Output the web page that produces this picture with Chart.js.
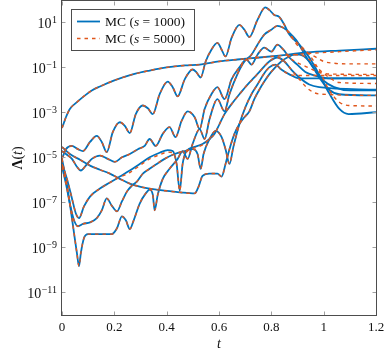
<!DOCTYPE html>
<html><head><meta charset="utf-8">
<script src="https://cdn.jsdelivr.net/npm/chart.js@4.4.1/dist/chart.umd.min.js"></script>
<style>html,body{margin:0;padding:0;background:#fff;}canvas{display:block;}</style>
</head><body>
<canvas id="c" width="390" height="355"></canvas>
<script>
// ---------- data ----------
const xTickValues = [0, 0.2, 0.4, 0.6, 0.8, 1, 1.2];
const xTickLabels = ['0', '0.2', '0.4', '0.6', '0.8', '1', '1.2'];
const yTickValues = [1e1, 1e-1, 1e-3, 1e-5, 1e-7, 1e-9, 1e-11];
const yTickExps = ['1', '\u22121', '\u22123', '\u22125', '\u22127', '\u22129', '\u221211'];
const seriesLabels = ['MC (s = 1000)', 'MC (s = 5000)'];

const tA = [0,0.008,0.015,0.03,0.057,0.088,0.114,0.145,0.2,0.27,0.335,0.4,0.47,0.526,0.6,0.67,0.754,0.83,0.933,1.06,1.2];
const A1000 = [2.0e-4,3.6e-4,6.0e-4,1.4e-3,2.8e-3,5.6e-3,9.3e-3,1.4e-2,2.6e-2,4.8e-2,7.1e-2,9.8e-2,0.12,0.13,0.18,0.22,0.27,0.33,0.45,0.55,0.66];
const A5000 = [2.0e-4,3.6e-4,6.0e-4,1.4e-3,2.8e-3,5.6e-3,9.3e-3,1.4e-2,2.6e-2,4.8e-2,7.1e-2,9.8e-2,0.12,0.13,0.18,0.22,0.27,0.32,0.40,0.49,0.60];

const tB = [0,0.015,0.038,0.061,0.08,0.107,0.133,0.152,0.171,0.194,0.221,0.24,0.259,0.282,0.309,0.328,0.347,0.373,0.404,0.423,0.442,0.469,0.499,0.514,0.53,0.549,0.571,0.594,0.61,0.625,0.648,0.678,0.697,0.716,0.747,0.777,0.792,0.811,0.83,0.85,0.869,0.907,0.945,0.985,1.02,1.06,1.095,1.2];
const B1000 = [8.5e-6,2.3e-5,3.2e-5,2.3e-5,1.9e-5,4.8e-5,8.9e-5,4.8e-5,1.7e-5,1.3e-4,3.6e-4,2.5e-4,1.2e-4,8.3e-4,2.0e-3,1.5e-3,8.3e-4,6.3e-3,2.3e-2,1.3e-2,5.1e-3,2.9e-2,7.9e-2,5.9e-2,3.5e-2,0.18,0.6,1.2,0.6,0.3,2.0,7.6,4.6,2.2,12.6,45,35,21,17,7.6,2.8,1.0,0.27,4.3e-2,7.3e-3,1.4e-3,8.3e-4,1.0e-3];
const B5000 = [8.5e-6,2.3e-5,3.2e-5,2.3e-5,1.9e-5,4.8e-5,8.9e-5,4.8e-5,1.7e-5,1.3e-4,3.6e-4,2.5e-4,1.2e-4,8.3e-4,2.0e-3,1.5e-3,8.3e-4,6.3e-3,2.3e-2,1.3e-2,5.1e-3,2.9e-2,7.9e-2,5.9e-2,3.5e-2,0.18,0.6,1.2,0.6,0.3,2.0,7.6,4.6,2.2,12.6,45,35,21,17,7.6,2.8,1.0,0.36,6.5e-2,1.0e-2,2.8e-3,2.0e-3,1.9e-3];

const tC = [0,0.015,0.03,0.046,0.057,0.065,0.072,0.084,0.099,0.145,0.19,0.21,0.229,0.244,0.259,0.274,0.297,0.32,0.335,0.347,0.354,0.366,0.385,0.411,0.442,0.461,0.48,0.499,0.526,0.545,0.564,0.594,0.621,0.64,0.67,0.697,0.724,0.747,0.773,0.8,0.823,0.846,0.869,0.895,0.93,0.965,1.0,1.04,1.1,1.2];
const C1000 = [8.5e-6,1.1e-6,8.9e-8,4.3e-9,5.6e-10,1.5e-10,5.6e-10,2.6e-9,3.9e-9,3.9e-9,3.9e-9,7.1e-9,2.4e-8,1.6e-8,6.5e-9,1.6e-8,8.9e-8,2.5e-7,3.7e-7,2.2e-7,4.4e-8,2.2e-7,1.1e-6,3.1e-6,8.5e-6,1.9e-5,8.5e-6,3.9e-5,1.8e-4,6.5e-5,5.0e-4,3.8e-3,1.1e-3,6.3e-3,4.8e-2,0.18,0.36,1.0,2.8,4.6,6.9,5.6,3.4,1.6,0.33,7.9e-2,2.5e-2,1.3e-2,9.3e-3,9.3e-3];
const C5000 = [8.5e-6,1.1e-6,8.9e-8,4.3e-9,5.6e-10,1.5e-10,5.6e-10,2.6e-9,3.9e-9,3.9e-9,3.9e-9,7.1e-9,2.4e-8,1.6e-8,6.5e-9,1.6e-8,8.9e-8,2.5e-7,3.7e-7,2.2e-7,4.4e-8,2.2e-7,1.1e-6,3.1e-6,8.5e-6,1.9e-5,8.5e-6,3.9e-5,1.8e-4,6.5e-5,5.0e-4,3.8e-3,1.1e-3,6.3e-3,4.8e-2,0.18,0.36,1.0,2.8,4.6,6.9,5.6,3.4,1.1,0.49,0.30,0.18,0.15,0.14,0.14];

const tD = [0,0.03,0.069,0.107,0.145,0.183,0.221,0.259,0.297,0.335,0.392,0.45,0.507,0.522,0.537,0.564,0.594,0.61,0.625,0.64,0.659,0.678,0.697,0.716,0.735,0.754,0.773,0.792,0.815,0.838,0.861,0.888,0.907,0.945,0.983,1.021,1.059,1.2];
const D1000 = [2.9e-5,1.4e-5,7.8e-6,4.3e-6,2.8e-6,1.9e-6,1.1e-6,6.8e-7,5.0e-7,4.1e-7,3.3e-7,2.8e-7,2.5e-7,5.0e-7,1.5e-6,1.9e-6,1.9e-6,1.4e-6,5.1e-6,2.3e-5,1.1e-4,3.0e-4,6.0e-4,1.1e-3,3.8e-3,1.0e-2,2.3e-2,4.8e-2,9.8e-2,0.18,0.27,0.36,0.36,0.18,3.5e-2,1.0e-2,6.3e-3,5.6e-3];
const D5000 = [2.9e-5,1.4e-5,7.8e-6,4.3e-6,2.8e-6,1.9e-6,1.1e-6,6.8e-7,5.0e-7,4.1e-7,3.3e-7,2.8e-7,2.5e-7,5.0e-7,1.5e-6,1.9e-6,1.9e-6,1.4e-6,5.1e-6,2.3e-5,1.1e-4,3.0e-4,6.0e-4,1.1e-3,3.8e-3,1.0e-2,2.3e-2,4.8e-2,9.8e-2,0.18,0.27,0.36,0.36,0.22,7.9e-2,3.5e-2,2.1e-2,1.9e-2];

const tE = [0,0.019,0.038,0.053,0.065,0.084,0.107,0.145,0.183,0.221,0.259,0.297,0.335,0.373,0.404,0.423,0.438,0.45,0.461,0.476,0.507,0.537,0.564,0.583,0.602,0.621,0.648,0.678,0.709,0.735,0.762,0.792,0.823,0.85,0.876,0.907,0.945,0.983,1.2];
const E1000 = [5.1e-6,1.1e-6,1.5e-7,3.2e-8,2.0e-8,6.6e-8,1.8e-7,4.1e-7,7.6e-7,1.4e-6,2.6e-6,5.1e-6,1.0e-5,1.6e-5,2.1e-5,1.9e-5,5.1e-6,3.3e-7,5.1e-6,1.9e-5,2.9e-5,3.9e-5,6.5e-5,1.1e-4,3.0e-4,8.3e-4,2.3e-3,6.3e-3,1.7e-2,3.5e-2,7.9e-2,0.18,0.27,0.18,7.9e-2,3.5e-2,1.7e-2,1.3e-2,1.0e-2];
const E5000 = [5.1e-6,1.1e-6,1.5e-7,3.2e-8,2.0e-8,6.6e-8,1.8e-7,4.1e-7,7.6e-7,1.3e-6,2.1e-6,4.3e-6,8.5e-6,1.3e-5,1.7e-5,1.6e-5,5.1e-6,3.3e-7,5.1e-6,1.7e-5,2.6e-5,3.6e-5,6.5e-5,1.1e-4,3.0e-4,8.3e-4,2.3e-3,6.3e-3,1.7e-2,3.5e-2,7.9e-2,0.18,0.27,0.18,7.9e-2,2.9e-2,1.0e-2,6.5e-3,5.6e-3];

const tF = [0,0.015,0.03,0.046,0.061,0.08,0.107,0.133,0.152,0.171,0.19,0.21,0.229,0.248,0.267,0.286,0.309,0.335,0.362,0.392,0.43,0.469,0.499,0.518,0.53,0.541,0.564,0.587,0.61,0.625,0.64,0.655,0.678,0.701,0.724,0.747,0.77,0.792,0.815,0.838,0.869,0.907,0.945,1.2];
const F1000 = [3.8e-6,6.8e-7,8.9e-8,1.6e-8,8.7e-9,1.1e-8,1.3e-8,2.0e-8,4.4e-8,1.5e-7,7.2e-8,4.0e-8,1.1e-7,3.0e-7,5.5e-7,8.3e-7,1.9e-6,3.1e-6,5.1e-6,8.5e-6,1.4e-5,1.9e-5,2.3e-5,1.4e-5,3.1e-6,1.4e-5,6.5e-5,1.5e-4,7.9e-5,2.3e-5,5.1e-6,2.9e-5,3.0e-4,1.7e-3,6.3e-3,1.7e-2,4.8e-2,9.8e-2,0.13,7.9e-2,4.8e-2,3.2e-2,3.2e-2,3.2e-2];
const F5000 = [3.8e-6,6.8e-7,8.9e-8,1.6e-8,8.7e-9,1.1e-8,1.3e-8,2.0e-8,4.4e-8,1.5e-7,7.2e-8,4.0e-8,1.1e-7,3.0e-7,5.5e-7,8.3e-7,1.9e-6,3.1e-6,5.1e-6,8.5e-6,1.4e-5,1.9e-5,2.3e-5,1.4e-5,3.1e-6,1.4e-5,6.5e-5,1.5e-4,7.9e-5,2.3e-5,5.1e-6,2.9e-5,3.0e-4,1.7e-3,6.3e-3,1.7e-2,4.8e-2,9.8e-2,0.13,7.9e-2,4.8e-2,4.3e-2,4.3e-2,4.3e-2];

const tG = [0,0.019,0.038,0.057,0.072,0.091,0.114,0.145,0.175,0.202,0.229,0.259,0.29,0.316,0.335,0.358,0.385,0.411,0.434,0.457,0.48,0.507,0.526,0.545,0.571,0.594,0.621,0.648,0.678,0.705,0.724,0.747,0.773,0.8,0.823,0.846,0.869,0.899,0.93,0.965,1.02,1.2];
const G1000 = [1.9e-5,1.3e-5,8.5e-6,3.8e-6,2.6e-6,4.3e-6,8.5e-6,1.2e-5,8.5e-6,6.3e-6,1.0e-5,1.4e-5,2.3e-5,3.2e-5,6.5e-5,3.2e-5,1.1e-4,2.2e-4,7.9e-5,4.1e-4,1.1e-3,6.0e-4,1.8e-4,1.4e-3,6.3e-3,1.3e-2,3.8e-3,2.9e-2,9.8e-2,0.22,0.13,0.36,0.74,0.49,1.0,0.6,0.27,0.13,6.2e-2,4.3e-2,3.2e-2,3.2e-2];
const G5000 = [1.9e-5,1.3e-5,8.5e-6,3.8e-6,2.6e-6,4.3e-6,8.5e-6,1.2e-5,8.5e-6,6.3e-6,1.0e-5,1.4e-5,2.3e-5,3.2e-5,6.5e-5,3.2e-5,1.1e-4,2.2e-4,7.9e-5,4.1e-4,1.1e-3,6.0e-4,1.8e-4,1.4e-3,6.3e-3,1.3e-2,3.8e-3,2.9e-2,9.8e-2,0.22,0.13,0.36,0.74,0.49,1.0,0.6,0.27,0.16,0.11,7.1e-2,5.0e-2,4.8e-2];

// ---------- chart ----------
const BLUE = '#0072BD', ORANGE = '#E0561B';
const SERIF = '"Liberation Serif", "DejaVu Serif", serif';
const curves = [[tA,A1000,A5000],[tB,B1000,B5000],[tC,C1000,C5000],[tD,D1000,D5000],[tE,E1000,E5000],[tF,F1000,F5000],[tG,G1000,G5000]];
const datasets = [];
curves.forEach(([t,b,o]) => {
  datasets.push({label: seriesLabels[0], data: t.map((x,i)=>({x:x, y:b[i]})), borderColor: BLUE, borderWidth: 1.8, order: 2});
  datasets.push({label: seriesLabels[1], data: t.map((x,i)=>({x:x, y:o[i]})), borderColor: ORANGE, borderWidth: 1.4, borderDash: [3.5,4], order: 1});
});

const decor = {
  id: 'decor',
  afterDraw(chart) {
    const ctx = chart.ctx, a = chart.chartArea, xs = chart.scales.x, ys = chart.scales.y;
    const L = Math.round(a.left) - 0.5, R = Math.round(a.right) + 0.5, T = Math.round(a.top) + 0.5, B = Math.round(a.bottom) + 0.5;
    ctx.save();
    // inward ticks
    ctx.strokeStyle = '#a0a0a0'; ctx.lineWidth = 1;
    ctx.beginPath();
    xTickValues.forEach(v => {
      const px = Math.round(xs.getPixelForValue(v)) + 0.5;
      ctx.moveTo(px, B); ctx.lineTo(px, B - 4);
      ctx.moveTo(px, T); ctx.lineTo(px, T + 4);
    });
    yTickValues.forEach(v => {
      const py = Math.round(ys.getPixelForValue(v)) + 0.5;
      ctx.moveTo(L, py); ctx.lineTo(L + 4, py);
      ctx.moveTo(R, py); ctx.lineTo(R - 4, py);
    });
    ctx.stroke();
    // frame
    ctx.strokeStyle = '#4d4d4d'; ctx.lineWidth = 1;
    ctx.strokeRect(L, T - 1, R - L, B - T + 1);
    // y tick labels 10^k
    ctx.fillStyle = '#111'; ctx.textAlign = 'left'; ctx.textBaseline = 'alphabetic';
    yTickValues.forEach((v, i) => {
      const py = ys.getPixelForValue(v);
      ctx.font = '10px ' + SERIF; const we = ctx.measureText(yTickExps[i]).width;
      ctx.font = '14px ' + SERIF; const wb = ctx.measureText('10').width;
      const xr = 57;
      ctx.fillText('10', xr - we - wb - 0.5, py + 6);
      ctx.font = '10px ' + SERIF;
      ctx.fillText(yTickExps[i], xr - we, py + 0.5);
    });
    // y axis title  Λ(t)
    ctx.save();
    ctx.translate(18, 158); ctx.rotate(-Math.PI / 2);
    const parts = [['\u039B', 'bold 14px '], ['(', '14px '], ['t', 'italic 14px '], [')', '14px ']];
    let w = 0; parts.forEach(p => { ctx.font = p[1] + SERIF; w += ctx.measureText(p[0]).width; });
    let x0 = -w / 2; ctx.textBaseline = 'middle';
    parts.forEach(p => { ctx.font = p[1] + SERIF; ctx.fillText(p[0], x0, 0); x0 += ctx.measureText(p[0]).width; });
    ctx.restore();
    // legend
    const lx = 71.5, ly = 9.5, lw = 123, lh = 41;
    ctx.fillStyle = '#fff'; ctx.fillRect(lx, ly, lw, lh);
    ctx.strokeStyle = '#4d4d4d'; ctx.lineWidth = 1; ctx.strokeRect(lx, ly, lw, lh);
    const rows = [[21.5, BLUE, [], '1000', 1.8], [38.5, ORANGE, [3.5,4], '5000', 1.4]];
    rows.forEach(r => {
      ctx.strokeStyle = r[1]; ctx.lineWidth = r[4]; ctx.setLineDash(r[2]);
      ctx.beginPath(); ctx.moveTo(77, r[0]); ctx.lineTo(100, r[0]); ctx.stroke();
      ctx.setLineDash([]);
      ctx.fillStyle = '#111'; ctx.textBaseline = 'alphabetic';
      let x = 105; const yb = r[0] + 4.5;
      const segs = [['MC (', '13.5px '], ['s', 'italic 13.5px '], [' = ' + r[3] + ')', '13.5px ']];
      segs.forEach(s => { ctx.font = s[1] + SERIF; ctx.fillText(s[0], x, yb); x += ctx.measureText(s[0]).width; });
    });
    ctx.restore();
  }
};

new Chart(document.getElementById('c'), {
  type: 'line',
  data: { datasets: datasets },
  options: {
    responsive: false, animation: false, devicePixelRatio: 1,
    layout: { padding: { left: 0, right: 14, top: 1, bottom: 0 } },
    elements: { point: { radius: 0 }, line: { cubicInterpolationMode: 'monotone', fill: false } },
    plugins: { legend: { display: false }, tooltip: { enabled: false } },
    scales: {
      x: {
        type: 'linear', min: 0, max: 1.2,
        afterBuildTicks: s => { s.ticks = xTickValues.map(v => ({ value: v })); },
        afterFit: s => { s.height = 40; },
        grid: { display: false, drawTicks: false }, border: { display: false },
        ticks: { padding: 5, color: '#111', autoSkip: false, maxRotation: 0, font: { family: SERIF, size: 13 },
                 callback: v => xTickLabels[xTickValues.indexOf(v)] },
        title: { display: true, text: 't', color: '#111', font: { family: SERIF, size: 14, style: 'italic' }, padding: { top: 0, bottom: 2 } }
      },
      y: {
        type: 'logarithmic', min: 1e-12, max: 87,
        afterBuildTicks: s => { s.ticks = yTickValues.map(v => ({ value: v })); },
        afterFit: s => { s.width = 62; },
        grid: { display: false, drawTicks: false }, border: { display: false },
        ticks: { display: false }
      }
    }
  },
  plugins: [decor]
});
</script>
</body></html>
